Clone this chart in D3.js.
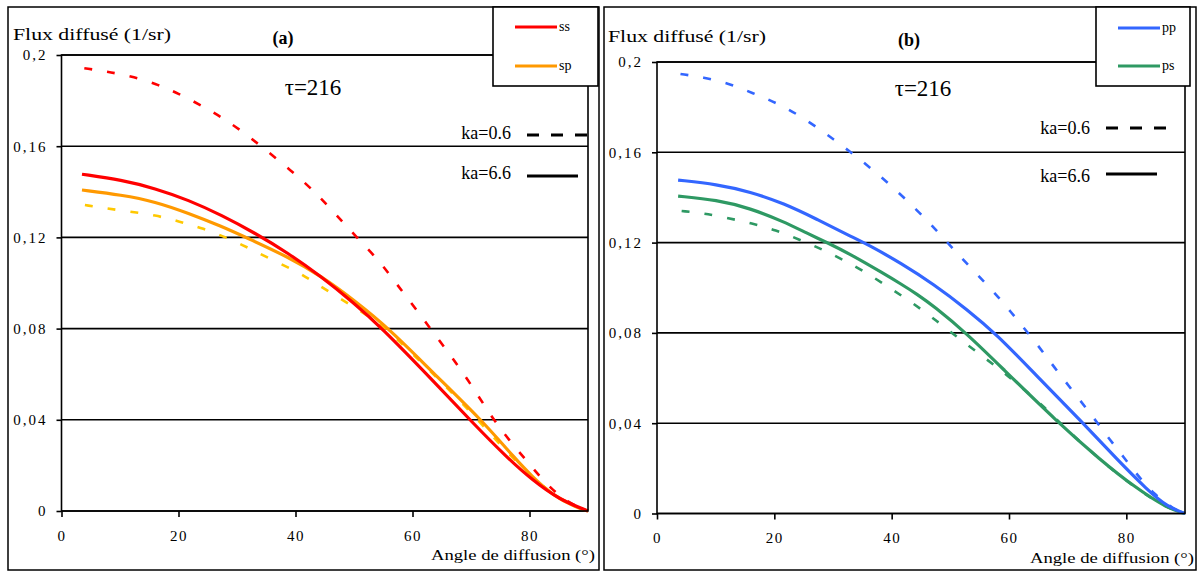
<!DOCTYPE html>
<html><head><meta charset="utf-8">
<script src="https://cdn.jsdelivr.net/npm/d3@7"></script>
<style>
body{margin:0;background:#fff}
svg text{font-family:"Liberation Serif","Times New Roman",Times,"DejaVu Serif",serif !important;fill:#000}
</style>
</head><body>
<svg id="c" width="1198" height="573"></svg>
<script>
// ---------- data ----------
const xTicks = [0, 20, 40, 60, 80];
const yTicks = [0, 0.04, 0.08, 0.12, 0.16, 0.2];
const yTickLabels = ["0", "0,04", "0,08", "0,12", "0,16", "0,2"];
const kaLabels = ["ka=0.6", "ka=6.6"];
const panelTitles = ["(a)", "(b)"];
const seriesNamesA = ["ss", "sp"];
const seriesNamesB = ["pp", "ps"];

// panel (a): [angle (deg), flux (1/sr)]
const ss_ka06 = [[3.9,0.1942],[7.8,0.1927],[11.7,0.1908],[16.3,0.1873],[19.9,0.1832],[24.1,0.1776],[27.7,0.1722],[31.8,0.1649],[39.8,0.1482],[43.3,0.1399],[46.7,0.1307],[50.4,0.1202],[54.4,0.1095],[57.3,0.0995],[60.7,0.0882],[64.1,0.0764],[67.5,0.0649],[70.6,0.0531],[73.6,0.0410],[76.5,0.0311],[79.4,0.0224],[82.5,0.0128],[86.3,0.0038],[90,0]];
const ss_ka66 = [[3.5,0.1477],[10.3,0.1452],[16,0.1415],[21.7,0.1364],[27.4,0.1297],[33,0.1220],[38.7,0.1132],[44.4,0.1028],[50,0.0912],[54.4,0.0812],[63.4,0.0575],[70.3,0.0386],[76.1,0.0236],[80.5,0.0135],[85.1,0.0050],[90,0]];
const sp_ka66 = [[3.5,0.1408],[10.3,0.1386],[16,0.1357],[21.7,0.1306],[27.4,0.1248],[31.5,0.1200],[38.7,0.1115],[44.4,0.1030],[50,0.0925],[56.2,0.0795],[63.4,0.0609],[71.8,0.04],[77.7,0.0225],[80.5,0.015],[84,0.0068],[88,0.0015],[90,0]];
const sp_ka06 = [[4,0.1342],[7.7,0.1327],[11.7,0.1313],[16,0.1298],[20.2,0.1269],[24.2,0.124],[28.5,0.1196],[32.2,0.1151],[36.1,0.11],[40.4,0.1049],[43.5,0.0998],[47.5,0.0933],[50.9,0.0882],[56,0.079],[63,0.0615],[70,0.0435],[76,0.026],[82,0.011],[86,0.004],[90,0]];

// panel (b)
const pp_ka06 = [[4,0.1947],[7.9,0.1932],[12.2,0.1906],[16.4,0.1861],[20.3,0.182],[24.2,0.1765],[28.4,0.1690],[31.8,0.1625],[35.8,0.1544],[39.8,0.1455],[44.3,0.1345],[47.8,0.1250],[50.9,0.116],[54.6,0.1058],[58.6,0.0948],[61.4,0.0858],[64.8,0.0750],[67.7,0.0648],[71.1,0.0535],[74.2,0.0432],[76.8,0.034],[79.6,0.0248],[81.9,0.0170],[84.7,0.0085],[88,0.002],[90,0]];
const pp_ka66 = [[3.6,0.1477],[10.2,0.1458],[15.9,0.1425],[21.6,0.1374],[27.3,0.1303],[33,0.1228],[36.4,0.1185],[41.5,0.1110],[47.2,0.1015],[52.9,0.0903],[58,0.0791],[64.3,0.0621],[72.5,0.0404],[78.5,0.0237],[83.6,0.0104],[87,0.003],[90,0]];
const ps_ka66 = [[3.6,0.1406],[10.2,0.1389],[15.9,0.1352],[21.6,0.1293],[25.6,0.1241],[29,0.12],[33,0.1148],[38.7,0.1062],[41.5,0.1018],[44.3,0.0972],[47.2,0.0918],[52.9,0.0795],[58.6,0.065],[68.3,0.0404],[75.6,0.0237],[81.3,0.0119],[87,0.0023],[90,0]];
const ps_ka06 = [[4.2,0.134],[7.9,0.133],[11.9,0.131],[16.2,0.1285],[20.2,0.1256],[24.4,0.1212],[28.4,0.1167],[32.4,0.1115],[36.4,0.1056],[44.1,0.0924],[47.8,0.085],[51.5,0.0775],[55.2,0.0702],[58.9,0.0630],[62.3,0.0555],[66,0.0473],[68.5,0.0404],[75.6,0.0235],[81.3,0.0117],[87,0.0022],[90,0]];

// ---------- drawing ----------
const svg = d3.select("#c");

function drawPanel(cfg) {
  const g = svg.append("g");
  g.append("rect").attr("x", cfg.frame[0]).attr("y", cfg.frame[1])
    .attr("width", cfg.frame[2]-cfg.frame[0]).attr("height", cfg.frame[3]-cfg.frame[1])
    .attr("fill", "#fff").attr("stroke", "#000").attr("stroke-width", 1.5);

  const x = d3.scaleLinear().domain([0, 90]).range(cfg.xr);
  const y = d3.scaleLinear().domain([0, 0.2]).range(cfg.yr);

  g.append("g").selectAll("line").data(yTicks).join("line")
    .attr("x1", cfg.xr[0]).attr("x2", cfg.xr[1])
    .attr("y1", d => y(d)).attr("y2", d => y(d))
    .attr("stroke", "#000").attr("stroke-width", 1.6);

  const ya = g.append("g").attr("transform", `translate(${cfg.xr[0]},0)`)
    .call(d3.axisLeft(y).tickValues(yTicks).tickFormat((d, i) => yTickLabels[i]).tickSize(5).tickPadding(9).tickSizeOuter(0));
  ya.attr("font-family", null);
  ya.select(".domain").remove();
  ya.selectAll("line").attr("stroke-width", 1.6);
  ya.selectAll("text").attr("font-size", 15).attr("letter-spacing", "2px");

  const xa = g.append("g").attr("transform", `translate(0,${cfg.yr[0]})`)
    .call(d3.axisBottom(x).tickValues(xTicks).tickSize(6).tickPadding(13).tickSizeOuter(0));
  xa.attr("font-family", null);
  xa.select(".domain").remove();
  xa.selectAll("line").attr("stroke-width", 1.6);
  xa.selectAll("text").attr("font-size", 15).attr("letter-spacing", "1.5px");

  const line = d3.line().x(d => x(d[0])).y(d => y(d[1])).curve(d3.curveBasis);
  cfg.series.forEach(s => {
    g.append("path").datum(s.data).attr("d", line)
      .attr("fill", "none").attr("stroke", s.color)
      .attr("stroke-width", s.dash ? 2.6 : 3.2)
      .attr("stroke-dasharray", s.dash ? "8,15" : null)
      .attr("stroke-linejoin", "round");
  });

  g.append("rect").attr("x", cfg.xr[0]).attr("y", cfg.yr[1])
    .attr("width", cfg.xr[1]-cfg.xr[0]).attr("height", cfg.yr[0]-cfg.yr[1])
    .attr("fill", "none").attr("stroke", "#000").attr("stroke-width", 1.6);

  g.append("text").attr("x", cfg.titleX).attr("y", cfg.titleY)
    .attr("font-size", 17).attr("textLength", 158).attr("lengthAdjust", "spacingAndGlyphs")
    .text("Flux diffusé (1/sr)");
  g.append("text").attr("x", cfg.panelX).attr("y", cfg.titleY + 4)
    .attr("text-anchor", "middle").attr("font-size", 18).attr("font-weight", "bold")
    .text(cfg.panelLabel);
  g.append("text").attr("x", cfg.tauX).attr("y", cfg.tauY)
    .attr("text-anchor", "middle").attr("font-size", 23)
    .text("τ=216");

  kaLabels.forEach((lab, i) => {
    g.append("text").attr("x", cfg.kaX).attr("y", cfg.kaY[i] + 6)
      .attr("text-anchor", "end").attr("font-size", 18).text(lab);
    g.append("line").attr("x1", cfg.kaX + 16).attr("x2", Math.min(cfg.kaX + (i === 0 ? 76 : 67), cfg.xr[1]))
      .attr("y1", cfg.kaSampleY[i]).attr("y2", cfg.kaSampleY[i])
      .attr("stroke", "#000").attr("stroke-width", 3)
      .attr("stroke-dasharray", i === 0 ? "12,12" : null);
  });

  g.append("text").attr("x", cfg.axX).attr("y", cfg.axY)
    .attr("font-size", 15).attr("textLength", 164).attr("lengthAdjust", "spacingAndGlyphs")
    .text("Angle de diffusion (°)");

  const lb = cfg.legend;
  g.append("rect").attr("x", lb[0]).attr("y", lb[1]).attr("width", lb[2]-lb[0]).attr("height", lb[3]-lb[1])
    .attr("fill", "#fff").attr("stroke", "#000").attr("stroke-width", 1.6);
  cfg.legendItems.forEach((it, i) => {
    const ly = cfg.legendY[i];
    g.append("line").attr("x1", lb[0] + 22).attr("x2", lb[0] + 64).attr("y1", ly).attr("y2", ly)
      .attr("stroke", it.color).attr("stroke-width", 3.2);
    g.append("text").attr("x", lb[0] + 66).attr("y", ly + 4).attr("font-size", 14).text(it.name);
  });
}

const RED = "#ff0000", ORANGE = "#ff9900", YELLOW = "#ffc800", BLUE = "#3366ff", GREEN = "#2e9963";

drawPanel({
  frame: [8, 7, 599, 570], xr: [61.5, 588], yr: [511, 55],
  titleX: 13, titleY: 40, panelX: 283, panelLabel: panelTitles[0],
  tauX: 313, tauY: 95,
  kaX: 511, kaY: [133, 173], kaSampleY: [135, 176],
  axX: 431, axY: 560,
  legend: [493, 7, 598, 86], legendY: [27, 66],
  legendItems: [{name: seriesNamesA[0], color: RED}, {name: seriesNamesA[1], color: ORANGE}],
  series: [
    {data: sp_ka06, color: YELLOW, dash: true},
    {data: sp_ka66, color: ORANGE, dash: false},
    {data: ss_ka66, color: RED, dash: false},
    {data: ss_ka06, color: RED, dash: true}
  ]
});

drawPanel({
  frame: [604, 7, 1196, 570], xr: [657, 1185], yr: [513.5, 62],
  titleX: 608, titleY: 42, panelX: 909, panelLabel: panelTitles[1],
  tauX: 923, tauY: 96,
  kaX: 1090, kaY: [128, 176], kaSampleY: [128, 174],
  axX: 1030, axY: 563,
  legend: [1096, 7, 1190, 86], legendY: [28, 66],
  legendItems: [{name: seriesNamesB[0], color: BLUE}, {name: seriesNamesB[1], color: GREEN}],
  series: [
    {data: ps_ka06, color: GREEN, dash: true},
    {data: ps_ka66, color: GREEN, dash: false},
    {data: pp_ka66, color: BLUE, dash: false},
    {data: pp_ka06, color: BLUE, dash: true}
  ]
});
</script>
</body></html>
